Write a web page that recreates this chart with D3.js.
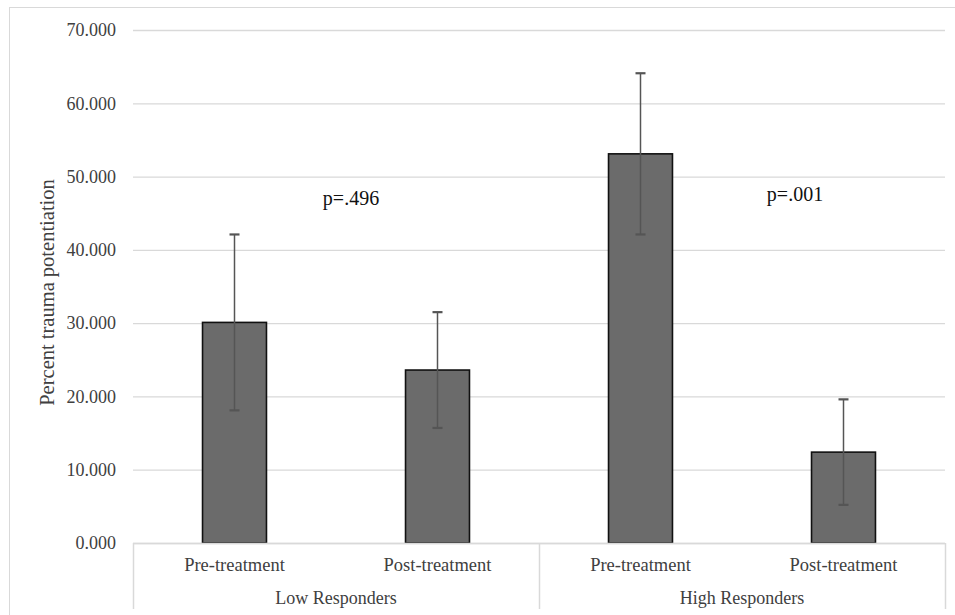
<!DOCTYPE html>
<html>
<head>
<meta charset="utf-8">
<script src="https://cdn.jsdelivr.net/npm/d3@7"></script>
<style>
  body { margin: 0; background: #fff; }
  text { font-family: "Liberation Serif", "Times New Roman", serif; fill: #404040; }
</style>
</head>
<body>
<div id="chart"></div>
<script>
"use strict";
// data
const groups = ["Low Responders", "High Responders"];
const phases = ["Pre-treatment", "Post-treatment"];
const means = [30.1, 23.6, 53.1, 12.4];
const errors = [12.0, 7.9, 11.0, 7.2];
const pLabels = ["p=.496", "p=.001"];
const pLevels = [46.1, 46.6];
const yTicks = [0, 10, 20, 30, 40, 50, 60, 70];

const W = 955, H = 615;
const plotLeft = 133, plotRight = 945, plotTop = 30, plotBottom = 543;

let svg = d3.select('#chart').append('svg').attr('width', W).attr('height', H);

// outer chart frame
svg.append('rect')
  .attr('x', 9.5).attr('y', 7.5).attr('width', 960).attr('height', 620)
  .attr('fill', 'none').attr('stroke', '#d9d9d9').attr('stroke-width', 1);

let rows = [];
groups.forEach(function(g, gi) {
  phases.forEach(function(p, pi) {
    let k = gi * phases.length + pi;
    rows.push({ group: g, phase: p, key: g + '|' + p, mean: means[k], err: errors[k] });
  });
});

let x = d3.scaleBand().domain(rows.map(d => d.key)).range([plotLeft, plotRight]).paddingInner(0.685).paddingOuter(0.3425);
let xGroup = d3.scaleBand().domain(groups).range([plotLeft, plotRight]);
let y = d3.scaleLinear().domain([0, 70]).range([plotBottom, plotTop]);

// gridlines
svg.append('g').selectAll('line').data(yTicks).enter().append('line')
  .attr('x1', plotLeft).attr('x2', plotRight)
  .attr('y1', d => y(d) + 0.5).attr('y2', d => y(d) + 0.5)
  .attr('stroke', '#d9d9d9').attr('stroke-width', 1.3);

// y axis labels
let yAxis = d3.axisLeft(y).tickValues(yTicks).tickFormat(d3.format('.3f')).tickSize(0).tickPadding(17);
let yg = svg.append('g').attr('transform', 'translate(' + plotLeft + ',0)').call(yAxis);
yg.select('.domain').remove();
yg.selectAll('text').style('font-size', '18px').attr('fill', '#404040').style('font-family', '"Liberation Serif", serif');

// y title
svg.append('text')
  .attr('transform', 'translate(54,' + ((plotTop + plotBottom) / 2 + 6) + ') rotate(-90)')
  .attr('text-anchor', 'middle')
  .style('font-size', '20.5px')
  .text('Percent trauma potentiation');

// bars
svg.append('g').selectAll('rect').data(rows).enter().append('rect')
  .attr('x', d => x(d.key))
  .attr('y', d => y(d.mean))
  .attr('width', x.bandwidth())
  .attr('height', d => y(0) - y(d.mean))
  .attr('fill', '#6b6b6b')
  .attr('stroke', '#111')
  .attr('stroke-width', 1.6);

// error bars
let eb = svg.append('g').selectAll('g').data(rows).enter().append('g')
  .attr('stroke', '#555').attr('stroke-width', 1.5);
eb.append('line')
  .attr('x1', d => x(d.key) + x.bandwidth() / 2).attr('x2', d => x(d.key) + x.bandwidth() / 2)
  .attr('y1', d => y(d.mean + d.err)).attr('y2', d => y(d.mean - d.err));
eb.append('line')
  .attr('x1', d => x(d.key) + x.bandwidth() / 2 - 5).attr('x2', d => x(d.key) + x.bandwidth() / 2 + 5)
  .attr('y1', d => y(d.mean + d.err)).attr('y2', d => y(d.mean + d.err))
  .attr('stroke-width', 2.2);
eb.append('line')
  .attr('x1', d => x(d.key) + x.bandwidth() / 2 - 5).attr('x2', d => x(d.key) + x.bandwidth() / 2 + 5)
  .attr('y1', d => y(d.mean - d.err)).attr('y2', d => y(d.mean - d.err))
  .attr('stroke-width', 2.2);

// category axis box
let axisG = svg.append('g');
axisG.append('line')
  .attr('x1', plotLeft).attr('x2', plotRight).attr('y1', plotBottom + 0.5).attr('y2', plotBottom + 0.5)
  .attr('stroke', '#d9d9d9').attr('stroke-width', 1.5);
let seps = [plotLeft].concat(groups.map(g => xGroup(g) + xGroup.bandwidth()));
axisG.selectAll('line.sep').data(seps).enter().append('line')
  .attr('class', 'sep')
  .attr('x1', d => d + 0.5).attr('x2', d => d + 0.5)
  .attr('y1', plotBottom).attr('y2', 609)
  .attr('stroke', '#d9d9d9').attr('stroke-width', 1.5);

axisG.selectAll('text.phase').data(rows).enter().append('text')
  .attr('class', 'phase')
  .attr('x', d => x(d.key) + x.bandwidth() / 2)
  .attr('y', 571)
  .attr('text-anchor', 'middle')
  .style('font-size', '18.5px')
  .text(d => d.phase);

axisG.selectAll('text.group').data(groups).enter().append('text')
  .attr('class', 'group')
  .attr('x', d => xGroup(d) + xGroup.bandwidth() / 2)
  .attr('y', 604)
  .attr('text-anchor', 'middle')
  .style('font-size', '18px')
  .text(d => d);

// p value notes
let pOffsets = [15, 53];
svg.selectAll('text.pval').data(pLabels).enter().append('text')
  .attr('class', 'pval')
  .attr('x', (d, i) => xGroup(groups[i]) + xGroup.bandwidth() / 2 + pOffsets[i])
  .attr('y', (d, i) => y(pLevels[i]))
  .attr('text-anchor', 'middle')
  .style('font-size', '20px')
  .style('fill', '#111')
  .text(d => d);
</script>
</body>
</html>
